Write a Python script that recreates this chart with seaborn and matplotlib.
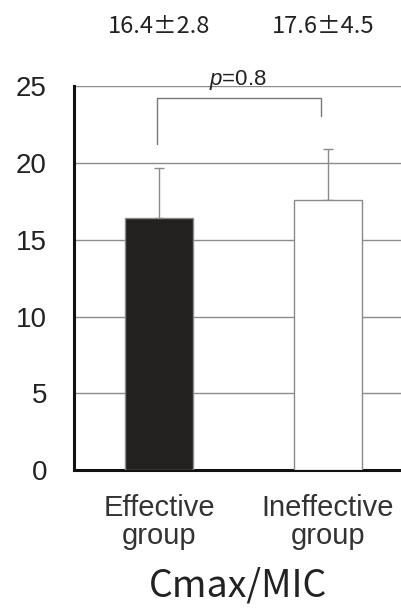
import matplotlib
matplotlib.use("Agg")
import matplotlib.pyplot as plt
import seaborn as sns
import pandas as pd

# values
groups = ["Effective\ngroup", "Ineffective\ngroup"]
means = [16.4, 17.6]
err_up = [3.3, 3.3]          # error bar lengths as drawn
top_labels = ["16.4±2.8", "17.6±4.5"]
p_label = "$p$=0.8"
yticks = [0, 5, 10, 15, 20, 25]

sns.set_theme(style="white")
plt.rcParams["font.family"] = ["Liberation Sans", "DejaVu Sans"]
plt.rcParams["mathtext.fontset"] = "custom"
plt.rcParams["mathtext.rm"] = "Liberation Sans"
plt.rcParams["mathtext.it"] = "Liberation Sans:italic"

fig = plt.figure(figsize=(4.02, 6.09), dpi=100)
ax = fig.add_axes([0.184, 0.228, 0.816, 0.630])

df = pd.DataFrame({"group": groups, "value": means})
sns.barplot(data=df, x="group", y="value", hue="group",
            palette={groups[0]: "#231f20", groups[1]: "white"},
            width=0.4, edgecolor="#8a8a8a", linewidth=1.0,
            legend=False, ax=ax, zorder=3)

ax.errorbar(range(len(means)), means, yerr=[[0] * len(means), err_up],
            fmt="none", ecolor="#8a8a8a", elinewidth=1.0, capsize=3.3,
            capthick=1.0, zorder=2)

ax.set_ylim(0, 25)
ax.set_xlim(-0.503, 1.438)
ax.set_yticks(yticks)
ax.set_yticklabels([str(t) for t in yticks])
ax.yaxis.grid(True, color="#8c8c8c", linewidth=1.0)
ax.set_axisbelow(True)

for s in ["top", "right"]:
    ax.spines[s].set_visible(False)
for s in ["left", "bottom"]:
    ax.spines[s].set_color("#111111")
    ax.spines[s].set_linewidth(2.2)

ax.tick_params(axis="y", direction="out", length=6.5, width=2.0,
               color="#111111", pad=13, labelsize=20, labelcolor="#222222")
ax.tick_params(axis="x", length=0, pad=17, labelsize=21, labelcolor="#333333")
for lab in ax.get_xticklabels():
    lab.set_linespacing(1.0)
ax.set_ylabel("")
ax.set_xlabel("Cmax/MIC", fontsize=27, color="#222222",
              family=["Noto Sans CJK JP", "DejaVu Sans"])
ax.xaxis.label.set_va("center")
ax.xaxis.set_label_coords(0.5, -0.302)

# significance bracket
ax.plot([-0.01, -0.01, 0.96, 0.96], [21.24, 24.23, 24.23, 23.07],
        color="#777777", linewidth=1.0, clip_on=False, zorder=4)
ax.text(0.467, 25.4, p_label, ha="center", va="center", fontsize=16,
        color="#222222", clip_on=False)

# mean ± SD labels above the plot
for xpos, lab in zip([0, 0.97], top_labels):
    ax.text(xpos, 28.9, lab, ha="center", va="center", fontsize=17,
            color="#222222", family=["Noto Sans CJK JP", "DejaVu Sans"],
            clip_on=False)

fig.savefig("out.png", dpi=100)
